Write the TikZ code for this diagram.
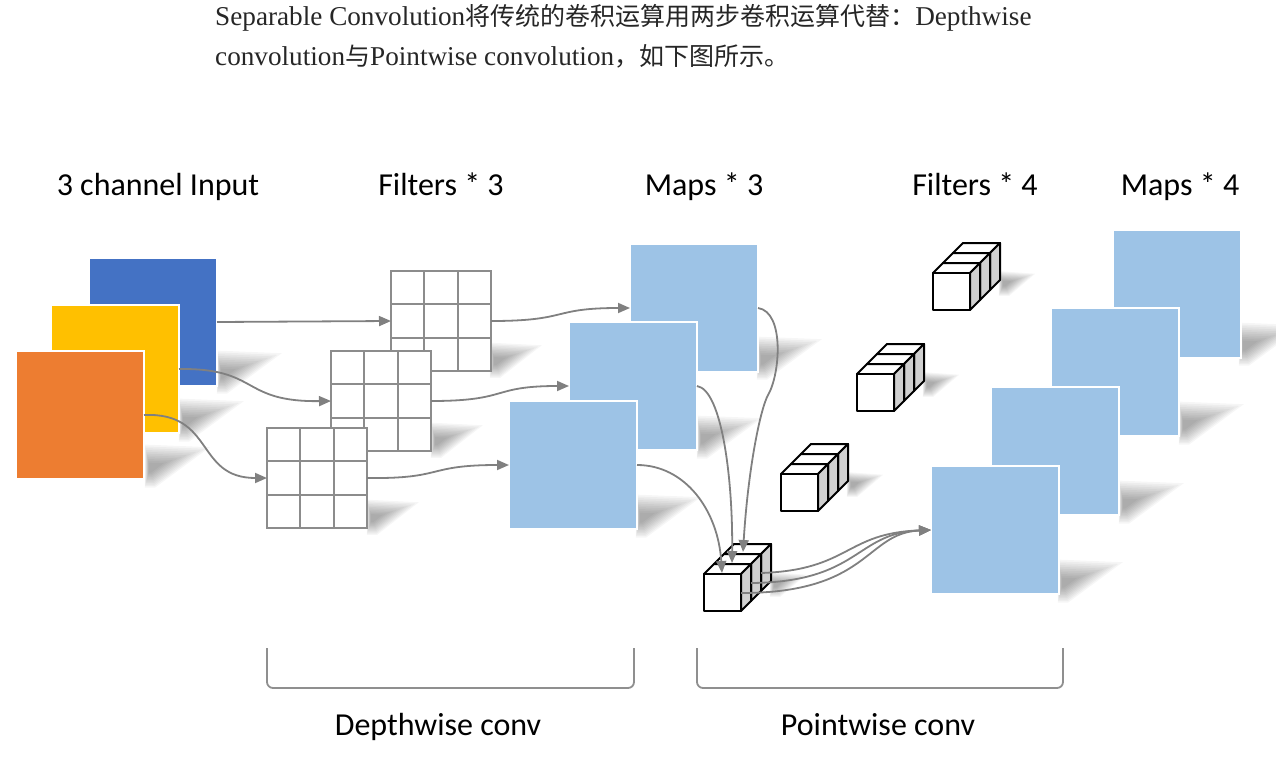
\documentclass[tikz,border=0pt]{standalone}
\usepackage{fontspec}
\newfontfamily\lab{Carlito}
\newfontfamily\ser{Liberation Serif}
\newfontfamily\cjk{Noto Sans CJK SC}
\usetikzlibrary{arrows.meta,calc}
\definecolor{inblue}{HTML}{4472C4}
\definecolor{inyellow}{HTML}{FFC000}
\definecolor{inorange}{HTML}{ED7D31}
\definecolor{mapblue}{HTML}{9DC3E6}
\definecolor{linegray}{HTML}{808080}
\definecolor{gridgray}{HTML}{8C8C8C}
\definecolor{bracegray}{HTML}{8F8F8F}
\definecolor{cubeside}{HTML}{D0D0D0}
\definecolor{txt}{HTML}{262626}
\tikzset{
  sq/.style={draw=white, line width=2pt, minimum width=128pt, minimum height=128pt, anchor=north west, inner sep=0pt, outer sep=0pt},
  filt/.style={draw=gridgray, fill=white, line width=2pt, minimum size=100pt, anchor=north west, inner sep=0pt, outer sep=0pt},
  gridline/.style={draw=gridgray, line width=2pt},
  conn/.style={draw=linegray, line width=1.8pt, -{Triangle[length=12pt,width=10pt]}},
  lbl/.style={font=\lab\fontsize{32}{38}\selectfont, text=black, inner sep=0pt, anchor=base},
  bracket/.style={draw=bracegray, line width=1.8pt, rounded corners=6pt},
  cubeline/.style={draw=black, line width=2pt, line join=round},
}
% soft wedge shadow: #1,#2 = bottom-right corner of object, #3 = height, #4 = length
\newcommand\castshadow[4]{%
  \begin{scope}[shift={(#1,#2)}]
    \foreach \s in {1.3,1.2,1.1,1.0,0.9,0.8,0.7,0.6,0.5,0.4,0.3} {
      \begin{scope}[shift={(4,-0.4*#3)}, scale=\s, shift={(-4,0.4*#3)}]
        \fill[black, opacity=0.035] (0,-#3) -- (#4,-#3+2) -- (8,3) -- (0,3) -- cycle;
      \end{scope}
    }
  \end{scope}}
\newcommand\filtergrid[3]{%
  \node[filt] (#1) at (#2,#3) {};
  \foreach \t in {1,2} {
    \draw[gridline] ($(#1.north west)!\t/3!(#1.north east)$) -- ($(#1.south west)!\t/3!(#1.south east)$);
    \draw[gridline] ($(#1.north west)!\t/3!(#1.south west)$) -- ($(#1.north east)!\t/3!(#1.south east)$);
  }}
\newcommand\cubestack[3]{%
  \begin{scope}[shift={(#2,#3)}]
    \foreach \k in {2,1,0} {
      \filldraw[cubeline, fill=white] (\k*10,-\k*10) -- ++(37,0) -- ++(10,-10) -- ++(-37,0) -- cycle;
      \filldraw[cubeline, fill=cubeside] (37+\k*10,-\k*10) -- ++(10,-10) -- ++(0,37) -- ++(-10,10) -- cycle;
    }
    \node[cubeline, fill=white, minimum size=37pt, anchor=north west, inner sep=0pt, outer sep=0pt] (#1) at (0,0) {};
  \end{scope}}
\begin{document}
\begin{tikzpicture}[x=1pt,y=-1pt]
\useasboundingbox (0,0) rectangle (1276,760);
% shadows
\castshadow{218}{386}{30}{50}
\castshadow{180}{434}{30}{50}
\castshadow{146}{480}{30}{50}
\castshadow{491}{371}{24}{40}
\castshadow{432}{451}{24}{40}
\castshadow{368}{528}{24}{40}
\castshadow{758}{372}{30}{50}
\castshadow{698}{451}{30}{50}
\castshadow{637}{530}{30}{50}
\castshadow{1240}{358}{30}{50}
\castshadow{1180}{437}{30}{50}
\castshadow{1120}{516}{30}{50}
\castshadow{1059}{595}{30}{50}
\castshadow{1000}{290}{16}{28}
\castshadow{924}{391}{16}{28}
\castshadow{848}{491}{16}{28}
\castshadow{771}{591}{16}{28}
% input channels
\node[sq, fill=inblue] (in1) at (89,258) {};
\node[sq, fill=inyellow] (in2) at (51,305) {};
\node[sq, fill=inorange] (in3) at (16,351) {};
% depthwise filters
\filtergrid{f1}{391}{271}
\filtergrid{f2}{331}{351}
\filtergrid{f3}{267}{428}
% maps * 3
\node[sq, fill=mapblue] (m1) at (630,244) {};
\node[sq, fill=mapblue] (m2) at (569,322) {};
\node[sq, fill=mapblue] (m3) at (509,401) {};
% maps * 4
\node[sq, fill=mapblue] (n1) at (1113,230) {};
\node[sq, fill=mapblue] (n2) at (1051,308) {};
\node[sq, fill=mapblue] (n3) at (991,387) {};
\node[sq, fill=mapblue] (n4) at (931,466) {};
% pointwise filters
\cubestack{cA}{933}{273}
\cubestack{cB}{857}{374}
\cubestack{cC}{781}{474}
\cubestack{cD}{704}{574}
\coordinate (d0) at ($(cD.north west)+(18,-1)$);
\coordinate (d1) at ($(cD.north west)+(28,-11)$);
\coordinate (d2) at ($(cD.north west)+(39,-22)$);
\coordinate (s0) at ($(cD.north west)+(37,19)$);
\coordinate (s1) at ($(cD.north west)+(47,9)$);
\coordinate (s2) at ($(cD.north west)+(57,-1)$);
% connectors
\draw[conn] (in1.east) -- (f1.west);
\draw[conn] (in2.east) .. controls (260,368) and (240,402) .. (f2.west);
\draw[conn] (in3.east) .. controls (215,412) and (195,478) .. (f3.west);
\draw[conn] (f1.east) .. controls (570,321) and (550,308) .. (m1.west);
\draw[conn] (f2.east) .. controls (510,401) and (490,386) .. (m2.west);
\draw[conn] (f3.east) .. controls (445,479) and (425,465) .. (m3.west);
\draw[conn] (m1.east) .. controls (785,312) and (780,375) .. (768,395) .. controls (760,410) and (748,470) .. (d2);
\draw[conn] (m2.east) .. controls (722,390) and (733,480) .. (d1);
\draw[conn] (m3.east) .. controls (685,465) and (718,510) .. (d0);
\draw[conn] (s2) .. controls (850,570) and (845,533) .. (n4.west);
\draw[conn] (s1) .. controls (860,582) and (855,533) .. (n4.west);
\draw[conn] (s0) .. controls (870,593) and (865,533) .. (n4.west);
% brackets
\draw[bracket] (267,648) -- (267,688) -- (634,688) -- (634,648);
\draw[bracket] (697,648) -- (697,688) -- (1063,688) -- (1063,648);
% labels
\node[lbl] (tin) at (158,195) {3 channel Input};
\node[lbl] (tf3) at (441,195) {Filters * 3};
\node[lbl] (tm3) at (704,195) {Maps * 3};
\node[lbl] (tf4) at (975,195) {Filters * 4};
\node[lbl] (tm4) at (1180,195) {Maps * 4};
\node[lbl] (tdw) at (438,735) {Depthwise conv};
\node[lbl] (tpw) at (878,735) {Pointwise conv};
% caption text
\node[anchor=base west, inner sep=0pt, text=txt, font=\ser\fontsize{27.2}{30}\selectfont] (t1) at (215,26)
  {Separable Convolution{\cjk\fontsize{25}{30}\selectfont 将传统的卷积运算用两步卷积运算代替：}Depthwise};
\node[anchor=base west, inner sep=0pt, text=txt, font=\ser\fontsize{27.2}{30}\selectfont] (t2) at (215,66)
  {convolution{\cjk\fontsize{25}{30}\selectfont 与}Pointwise convolution{\cjk\fontsize{25}{30}\selectfont ，如下图所示。}};
\end{tikzpicture}
\end{document}
